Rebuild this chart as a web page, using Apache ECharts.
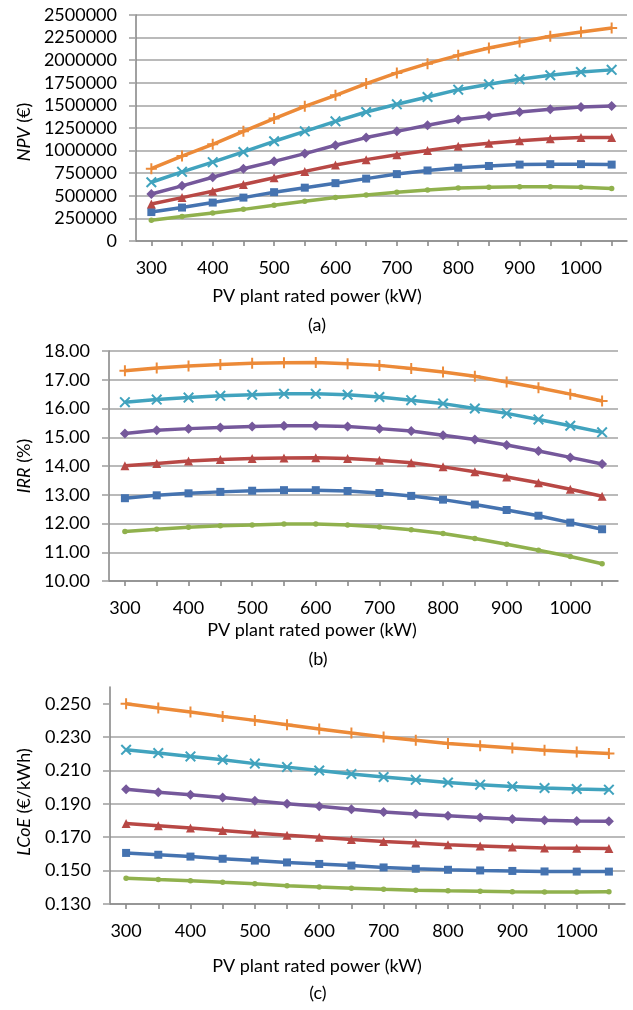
<!DOCTYPE html>
<html>
<head>
<meta charset="utf-8">
<script src="https://cdn.jsdelivr.net/npm/echarts@6/dist/echarts.min.js"></script>
<style>html,body{margin:0;padding:0;background:#fff;}#c{width:633px;height:1010px;}</style>
</head>
<body>
<div id="c"></div>
<script>
var categories = ['300','350','400','450','500','550','600','650','700','750','800','850','900','950','1000','1050'];
var seriesNames = ['S1','S2','S3','S4','S5','S6'];

// (a) NPV (€)
var npvBlue   = [320000,370000,425000,480000,540000,590000,640000,690000,740000,780000,810000,830000,845000,850000,850000,845000];
var npvRed    = [410000,480000,550000,625000,700000,770000,840000,900000,955000,1000000,1048000,1082000,1110000,1130000,1145000,1145000];
var npvGreen  = [230000,270000,310000,350000,395000,440000,480000,510000,540000,565000,585000,595000,600000,600000,595000,580000];
var npvPurple = [520000,610000,705000,800000,881000,967000,1059000,1144000,1213000,1280000,1343000,1383000,1427000,1457000,1482000,1493000];
var npvAqua   = [650000,765000,872000,985000,1103000,1213000,1324000,1427000,1512000,1593000,1674000,1733000,1789000,1833000,1870000,1893000];
var npvOrange = [800000,940000,1070000,1213000,1354000,1490000,1612000,1741000,1859000,1962000,2054000,2135000,2202000,2264000,2312000,2355000];

// (b) IRR (%)
var irrBlue   = [12.88,12.98,13.05,13.10,13.14,13.16,13.16,13.13,13.06,12.96,12.83,12.66,12.47,12.27,12.03,11.80];
var irrRed    = [14.01,14.09,14.17,14.23,14.26,14.28,14.29,14.26,14.20,14.11,13.97,13.80,13.62,13.42,13.19,12.95];
var irrGreen  = [11.72,11.80,11.87,11.92,11.95,11.98,11.98,11.95,11.88,11.78,11.65,11.48,11.28,11.07,10.85,10.60];
var irrPurple = [15.13,15.24,15.30,15.34,15.37,15.40,15.40,15.37,15.30,15.22,15.07,14.92,14.73,14.52,14.30,14.07];
var irrAqua   = [16.22,16.31,16.38,16.44,16.48,16.51,16.51,16.48,16.40,16.29,16.17,16.00,15.83,15.62,15.40,15.17];
var irrOrange = [17.31,17.41,17.48,17.53,17.57,17.59,17.60,17.56,17.50,17.39,17.27,17.12,16.92,16.72,16.50,16.26];

// (c) LCoE (€/kWh)
var lcoeBlue   = [0.1606,0.1595,0.1584,0.1571,0.1560,0.1549,0.1540,0.1530,0.1519,0.1511,0.1505,0.1501,0.1498,0.1495,0.1494,0.1494];
var lcoeRed    = [0.1782,0.1769,0.1755,0.1741,0.1726,0.1712,0.1700,0.1686,0.1675,0.1665,0.1655,0.1648,0.1641,0.1636,0.1634,0.1632];
var lcoeGreen  = [0.1455,0.1447,0.1440,0.1430,0.1421,0.1410,0.1402,0.1395,0.1388,0.1383,0.1379,0.1376,0.1373,0.1372,0.1372,0.1373];
var lcoePurple = [0.1988,0.1970,0.1954,0.1938,0.1918,0.1901,0.1885,0.1868,0.1851,0.1839,0.1828,0.1818,0.1809,0.1801,0.1797,0.1795];
var lcoeAqua   = [0.2224,0.2204,0.2184,0.2164,0.2141,0.2120,0.2100,0.2079,0.2061,0.2044,0.2028,0.2015,0.2004,0.1995,0.1989,0.1985];
var lcoeOrange = [0.2500,0.2474,0.2450,0.2424,0.2400,0.2374,0.2349,0.2324,0.2301,0.2281,0.2261,0.2248,0.2234,0.2221,0.2211,0.2201];

var lcoeTicks = [0.13,0.15,0.17,0.19,0.21,0.23,0.25];

var colors = ['#4573b0','#b84845','#90b14d','#75589b','#41a3be','#ec8a38'];
var plusPath = 'path://M4.1,0H5.9V4.1H10V5.9H5.9V10H4.1V5.9H0V4.1H4.1Z';
var xPath = 'path://M1.3,0L5,3.7L8.7,0L10,1.3L6.3,5L10,8.7L8.7,10L5,6.3L1.3,10L0,8.7L3.7,5L0,1.3Z';
var symbols = ['rect','triangle','circle','diamond',xPath,plusPath];
var symSizes = [8,9,5.5,10,11,11];

var FONT = 'Lato';
var FS = 18;
var gridColor = '#a3a3a3';
var axisColor = '#8a8a8a';

function mkX(gi){
  return {
    type:'category', gridIndex:gi, data:categories, boundaryGap:true,
    axisLine:{show:true,lineStyle:{color:axisColor,width:1.6}},
    axisTick:{show:true,alignWithLabel:true,interval:0,length:5,lineStyle:{color:axisColor,width:1.6}},
    axisLabel:{interval:1,margin:18,color:'#000',fontFamily:FONT,fontSize:FS},
    splitLine:{show:false}
  };
}
function mkY(gi,opt){
  var base = {
    type:'value', gridIndex:gi,
    axisLine:{show:true,lineStyle:{color:axisColor,width:1.6}},
    axisTick:{show:true,length:7,inside:false,lineStyle:{color:gridColor,width:1.6}},
    axisLabel:{color:'#000',fontFamily:FONT,fontSize:FS,margin:19},
    splitLine:{show:true,lineStyle:{color:gridColor,width:1.6}}
  };
  for (var k in opt){
    if (typeof opt[k]==='object' && base[k] && !Array.isArray(opt[k])) { for (var j in opt[k]) base[k][j]=opt[k][j]; }
    else base[k]=opt[k];
  }
  return base;
}

var groups = [
  [npvBlue,npvRed,npvGreen,npvPurple,npvAqua,npvOrange],
  [irrBlue,irrRed,irrGreen,irrPurple,irrAqua,irrOrange],
  [lcoeBlue,lcoeRed,lcoeGreen,lcoePurple,lcoeAqua,lcoeOrange]
];
var series = [];
groups.forEach(function(g,gi){
  g.forEach(function(d,si){
    series.push({
      type:'line', name:seriesNames[si], xAxisIndex:gi, yAxisIndex:gi, data:d,
      symbol:symbols[si], symbolSize:symSizes[si], showSymbol:true,
      lineStyle:{color:colors[si],width:3.5},
      itemStyle:{color:colors[si],borderWidth:0},
      emphasis:{disabled:true}, silent:true, z:2+si
    });
  });
});

function tx(text,x,y,rot,rich){
  var st = {text:text,x:0,y:0,fill:'#000',font:FS+'px '+FONT,align:'center',verticalAlign:'middle'};
  if (rich) st.rich = rich;
  return {type:'text',x:x,y:y,rotation:rot||0,style:st,z:100};
}
var italic = {i:{fontStyle:'italic',fontFamily:FONT,fontSize:FS,fill:'#000'}, n:{fontFamily:FONT,fontSize:FS,fill:'#000'}};

var option = {
  animation:false,
  backgroundColor:'#fff',
  grid:[
    {left:136,right:6,top:15,height:226},
    {left:109,right:15,top:351,height:230},
    {left:110,right:8,top:687,height:217}
  ],
  xAxis:[mkX(0),mkX(1),mkX(2)],
  yAxis:[
    mkY(0,{min:0,max:2500000,interval:250000,axisLabel:{formatter:function(v){return String(Math.round(v));}}}),
    mkY(1,{min:10,max:18,interval:1,axisLabel:{formatter:function(v){return v.toFixed(2);}}}),
    mkY(2,{min:0.13,max:0.26,interval:0.02,
      axisLabel:{customValues:lcoeTicks,formatter:function(v){return v>0.255?'':v.toFixed(3);}},
      axisTick:{customValues:lcoeTicks},
      splitLine:{showMaxLine:false}})
  ],
  series:series,
  graphic:[
    tx('{i|NPV}{n| (€)}',24,132,Math.PI/2,italic),
    tx('PV plant rated power (kW)',317,296,0),
    tx('(a)',317,325,0),
    tx('{i|IRR}{n| (%)}',24,466,Math.PI/2,italic),
    tx('PV plant rated power (kW)',312,630,0),
    tx('(b)',318,659,0),
    tx('{i|LCoE}{n| (€/kWh)}',24,802,Math.PI/2,italic),
    tx('PV plant rated power (kW)',317,966,0),
    tx('(c)',318,993,0)
  ]
};
var chart = echarts.init(document.getElementById('c'),null,{renderer:'canvas'});
chart.setOption(option);
</script>
</body>
</html>
